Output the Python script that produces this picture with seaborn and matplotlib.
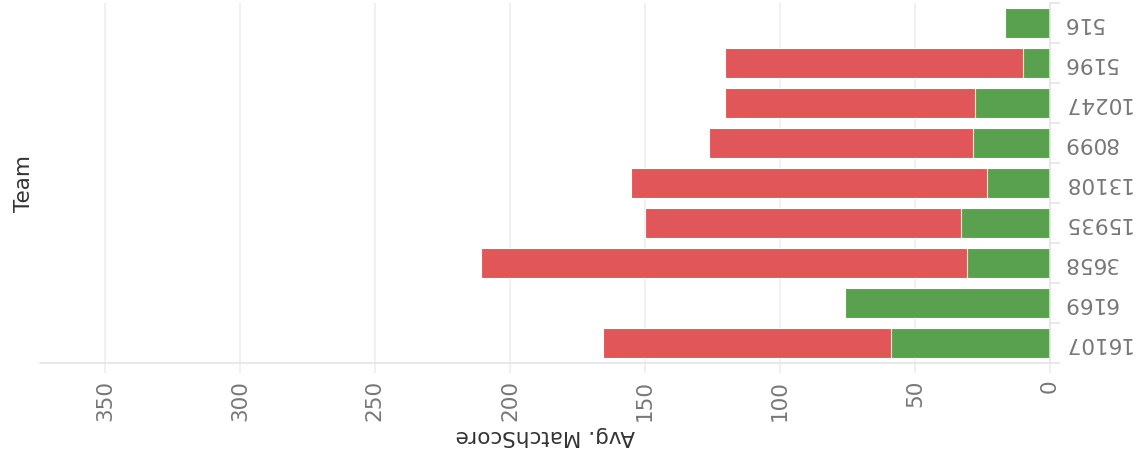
import matplotlib
matplotlib.use("Agg")
import matplotlib.pyplot as plt
import seaborn as sns
import pandas as pd
import numpy as np

teams = ["516", "5196", "10247", "8099", "13108", "15935", "3658", "6169", "16107"]
auto_score = [16.7, 10.0, 27.8, 28.5, 23.3, 33.0, 30.7, 75.9, 58.9]
other_score = [0.0, 110.4, 92.6, 97.8, 131.9, 117.0, 180.0, 0.0, 106.7]

GREEN = "#59a14f"
RED = "#e15759"

df = pd.DataFrame({"Team": teams, "auto": auto_score, "other": other_score})
df["total"] = df["auto"] + df["other"]

sns.set_theme(style="white")
plt.rcParams["font.family"] = ["DejaVu Sans"]

fig = plt.figure(figsize=(11.38, 4.70), dpi=100)
ax = fig.add_axes([40 / 1138, 1 - 363 / 470, 1010 / 1138, 360 / 470])

sns.barplot(data=df, x="total", y="Team", order=teams, color=RED, orient="h",
            width=0.75, edgecolor="white", linewidth=0.8, saturation=1, ax=ax)
sns.barplot(data=df, x="auto", y="Team", order=teams, color=GREEN, orient="h",
            width=0.75, edgecolor="white", linewidth=0.8, saturation=1, ax=ax)

ax.set_xlim(374, 0)
ax.set_ylim(8.5, -0.5)
ax.set_xticks(np.arange(0, 351, 50))
ax.grid(axis="x", color="#eeeeee", linewidth=1.2)
ax.set_axisbelow(True)

for side in ["top", "left"]:
    ax.spines[side].set_visible(False)
for side in ["bottom", "right"]:
    ax.spines[side].set_color("#e4e4e4")
    ax.spines[side].set_linewidth(1.2)

# team labels on the right, upside down
ax.yaxis.tick_right()
ax.tick_params(axis="y", which="major", length=0, pad=9, labelsize=15.5, labelcolor="#777777")
ax.set_yticks(np.arange(-0.5, 9, 1), minor=True)
ax.tick_params(axis="y", which="minor", length=7, color="#e4e4e4", width=1.2, right=True, left=False)
for lab in ax.get_yticklabels():
    lab.set_rotation(180)
    lab.set_verticalalignment("center")

ax.tick_params(axis="x", length=7, color="#eeeeee", width=1.2, pad=5, labelsize=15.5,
               labelcolor="#777777", bottom=True)
for lab in ax.get_xticklabels():
    lab.set_rotation(90)

ax.set_xlabel("Avg. MatchScore", fontsize=15.5, color="#333333", rotation=180,
              labelpad=4, fontweight="medium")
ax.set_ylabel("Team", fontsize=15.5, color="#333333", fontweight="medium")
ax.yaxis.set_label_position("left")
ax.yaxis.set_label_coords(-0.006, 0.5)

fig.savefig("out.png", dpi=100)
